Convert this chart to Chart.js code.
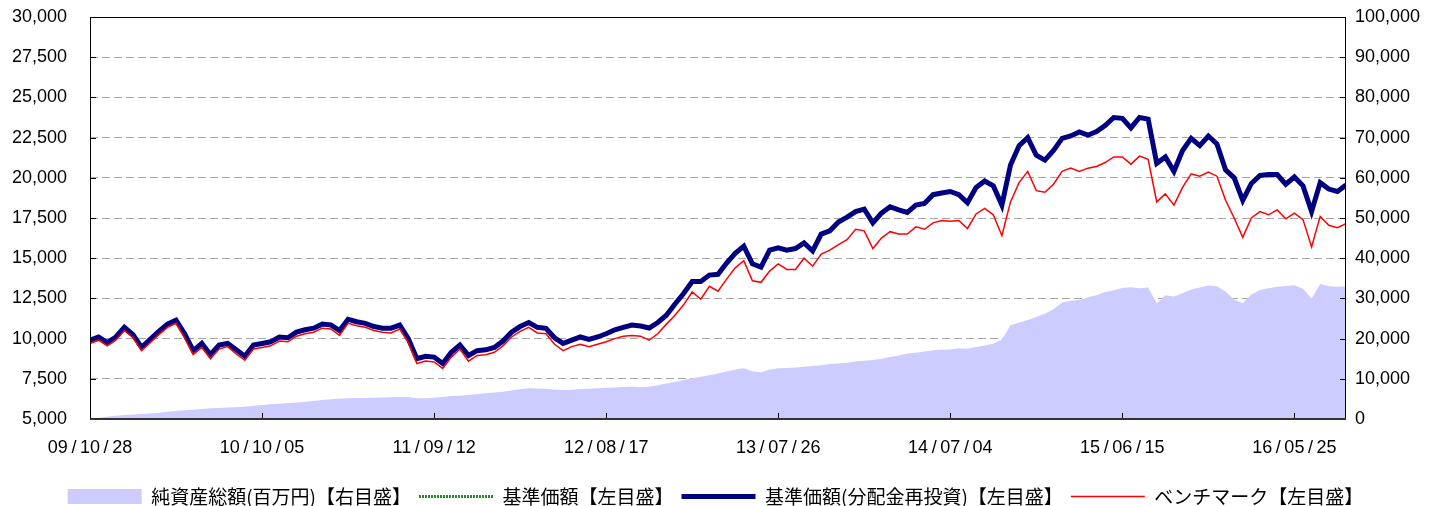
<!DOCTYPE html>
<html>
<head>
<meta charset="utf-8">
<script src="https://cdn.jsdelivr.net/npm/chart.js@4.4.0/dist/chart.umd.min.js"></script>
<style>
  html, body { margin: 0; padding: 0; background: #fff; }
  #wrap { width: 1431px; height: 506px; position: relative; }
</style>
</head>
<body>
<div id="wrap"><canvas id="chart"></canvas></div>
<script>
// tick labels on the x axis, one every 20 points
var tickLabels = ["09/10/28", "10/10/05", "11/09/12", "12/08/17", "13/07/26", "14/07/04", "15/06/15", "16/05/25"];
var tickStep = 20;

// 基準価額(分配金再投資) - left axis
var navReinvData = [
  9900, 10100, 9750, 10100, 10700, 10250, 9450, 9950, 10450, 10900,
  11150, 10300, 9250, 9700, 9000, 9600, 9700, 9300, 8900, 9600,
  9700, 9800, 10100, 10050, 10400, 10550, 10650, 10900, 10850, 10500,
  11200, 11050, 10950, 10750, 10650, 10650, 10840, 10000, 8750, 8900,
  8850, 8450, 9150, 9600, 8950, 9250, 9300, 9450, 9850, 10400,
  10750, 11000, 10700, 10640, 10050, 9700, 9900, 10100, 9950, 10100,
  10300, 10550, 10700, 10840, 10780, 10660, 11000, 11450, 12150, 12800,
  13550, 13550, 13950, 14000, 14700, 15300, 15750, 14650, 14450, 15500,
  15650, 15500, 15600, 15950, 15450, 16500, 16700, 17250, 17550, 17900,
  18050, 17200, 17800, 18200, 18000, 17850, 18300, 18400, 18950, 19050,
  19150, 18950, 18450, 19400, 19800, 19500, 18300, 20800, 22000, 22500,
  21400, 21100, 21700, 22450, 22600, 22850, 22650, 22870, 23250, 23750,
  23700, 23100, 23750, 23650, 20900, 21300, 20400, 21700, 22450, 22000,
  22600, 22100, 20500, 20000, 18600, 19650, 20150, 20200, 20200, 19600,
  20050, 19500, 17900, 19700, 19300, 19150, 19550
];

// 基準価額 - no distributions were paid, so it runs along the reinvested line
var navData = navReinvData.slice();

// ベンチマーク - left axis
var benchData = [
  9700, 9900, 9550, 9900, 10500, 10050, 9250, 9750, 10250, 10700,
  10950, 10050, 9000, 9450, 8750, 9350, 9500, 9050, 8650, 9350,
  9450, 9550, 9850, 9800, 10150, 10300, 10400, 10650, 10600, 10200,
  10950, 10800, 10700, 10500, 10400, 10350, 10600, 9750, 8450, 8600,
  8550, 8150, 8850, 9350, 8600, 8950, 9000, 9150, 9550, 10100,
  10450, 10700, 10350, 10300, 9650, 9250, 9500, 9650, 9500, 9650,
  9800, 10000, 10150, 10200, 10150, 9900, 10300, 10900, 11450, 12100,
  12900, 12450, 13250, 12950, 13700, 14400, 14850, 13600, 13500, 14200,
  14650, 14300, 14300, 15000, 14500, 15250, 15500, 15850, 16150, 16800,
  16700, 15600, 16250, 16650, 16500, 16500, 16950, 16800, 17200, 17350,
  17300, 17350, 16850, 17750, 18100, 17700, 16400, 18500, 19700, 20400,
  19200, 19100, 19600, 20400, 20600, 20400, 20600, 20700, 20950, 21300,
  21300, 20850, 21350, 21150, 18500, 19000, 18300, 19400, 20250, 20100,
  20350, 20100, 18600, 17500, 16300, 17500, 17900, 17700, 18000, 17450,
  17800, 17400, 15700, 17600, 17050, 16900, 17150
];

// 純資産総額(百万円) - right axis
var assetsData = [
  0, 300, 550, 800, 1000, 1150, 1250, 1350, 1550, 1800,
  2000, 2200, 2300, 2500, 2650, 2750, 2850, 2950, 3050, 3300,
  3500, 3700, 3800, 3950, 4050, 4300, 4500, 4700, 4900, 5050,
  5150, 5200, 5250, 5300, 5350, 5400, 5500, 5450, 5150, 5150,
  5300, 5500, 5700, 5800, 5950, 6150, 6400, 6600, 6800, 7100,
  7400, 7650, 7600, 7500, 7300, 7200, 7300, 7450, 7550, 7650,
  7750, 7850, 7950, 8050, 7900, 8050, 8400, 8850, 9200, 9700,
  10150, 10500, 10900, 11300, 11800, 12300, 12600, 11900, 11600, 12300,
  12600, 12700, 12800, 13000, 13200, 13400, 13700, 13800, 14000, 14300,
  14500, 14700, 15000, 15400, 15800, 16300, 16500, 16800, 17100, 17200,
  17300, 17600, 17500, 17900, 18300, 18700, 19800, 23300, 24000, 24600,
  25400, 26200, 27300, 29000, 29400, 29600, 30300, 30800, 31600, 32000,
  32600, 32800, 32500, 32700, 28800, 30800, 30500, 31300, 32200, 32700,
  33200, 33000, 31700, 29700, 28800, 31000, 32100, 32500, 32900, 33100,
  33300, 32400, 30000, 33600, 33000, 32900, 33000
];

var legendNames = ["純資産総額(百万円)【右目盛】", "基準価額【左目盛】", "基準価額(分配金再投資)【左目盛】", "ベンチマーク【左目盛】"];

function toPoints(arr) {
    return arr.map(function (v, i) { return { x: i, y: v }; });
}

var tickFont = { family: "'Liberation Sans', Arial, sans-serif", size: 18 };

// fixed box for the vertical axes so the plot sits at 90..1346 x 17..419
function fixAxis(width) {
    return function (scale) {
        scale.width = width;
        scale.paddingTop = 17;
        scale.paddingBottom = 0;
    };
}

// little inward tick marks and the plot frame
var frame = {
    id: 'frame',
    afterDatasetsDraw: function (chart) {
        var ctx = chart.ctx, a = chart.chartArea, s = chart.scales;
        ctx.save();
        ctx.strokeStyle = '#000';
        ctx.lineWidth = 1;
        ctx.beginPath();
        s.y.ticks.forEach(function (t) {
            var y = Math.round(s.y.getPixelForValue(t.value)) + 0.5;
            ctx.moveTo(a.left, y); ctx.lineTo(a.left + 6, y);
        });
        s.y2.ticks.forEach(function (t) {
            var y = Math.round(s.y2.getPixelForValue(t.value)) + 0.5;
            ctx.moveTo(a.right - 6, y); ctx.lineTo(a.right, y);
        });
        s.x.ticks.forEach(function (t) {
            var x = Math.round(s.x.getPixelForValue(t.value)) + 0.5;
            ctx.moveTo(x, a.bottom); ctx.lineTo(x, a.bottom - 6);
        });
        ctx.stroke();
        ctx.strokeRect(Math.round(a.left) + 0.5, Math.round(a.top) + 0.5, Math.round(a.width) - 1, Math.round(a.height) - 1);
        ctx.lineWidth = 2;
        ctx.strokeStyle = '#333';
        ctx.beginPath();
        ctx.moveTo(a.left, Math.round(a.bottom));
        ctx.lineTo(a.right, Math.round(a.bottom));
        ctx.stroke();
        ctx.restore();
    }
};

var config = {
    type: 'line',
    data: {
        datasets: [{
            label: legendNames[3],
            data: toPoints(benchData),
            borderColor: '#ff0000',
            borderWidth: 1.5,
            yAxisID: 'y',
            order: 1
        }, {
            label: legendNames[2],
            data: toPoints(navReinvData),
            borderColor: '#000080',
            borderWidth: 5,
            yAxisID: 'y',
            order: 2
        }, {
            label: legendNames[1],
            data: toPoints(navData),
            borderColor: '#228b22',
            borderWidth: 2,
            borderDash: [2, 2],
            yAxisID: 'y',
            order: 3
        }, {
            label: legendNames[0],
            data: toPoints(assetsData),
            borderWidth: 0,
            backgroundColor: '#ccccff',
            fill: 'origin',
            yAxisID: 'y2',
            order: 4
        }]
    },
    options: {
        responsive: true,
        maintainAspectRatio: false,
        animation: false,
        events: [],
        elements: { point: { radius: 0 }, line: { tension: 0 } },
        layout: { padding: 0 },
        scales: {
            x: {
                type: 'linear',
                min: 0,
                max: 146,
                afterBuildTicks: function (scale) {
                    scale.ticks = tickLabels.map(function (l, i) { return { value: i * tickStep }; });
                },
                afterFit: function (scale) { scale.height = 60; },
                grid: { display: false, drawTicks: false },
                border: { display: false },
                ticks: {
                    autoSkip: false,
                    maxRotation: 0,
                    padding: 18,
                    color: '#000',
                    font: tickFont,
                    callback: function (v) {
                        var l = tickLabels[Math.round(v / tickStep)];
                        return l ? l.split('/').join('\u2009/\u2009') : '';
                    }
                }
            },
            y: {
                position: 'left',
                min: 5000,
                max: 30000,
                afterFit: fixAxis(90),
                grid: { color: '#a6a6a6', drawTicks: false, lineWidth: 1 },
                border: { display: false, dash: [8, 4] },
                ticks: {
                    stepSize: 2500,
                    padding: 23,
                    color: '#000',
                    font: tickFont,
                    callback: function (v) { return v.toLocaleString('en-US'); }
                }
            },
            y2: {
                position: 'right',
                min: 0,
                max: 100000,
                afterFit: fixAxis(85),
                grid: { display: false, drawTicks: false },
                border: { display: false },
                ticks: {
                    stepSize: 10000,
                    padding: 9,
                    color: '#000',
                    font: tickFont,
                    callback: function (v) { return v.toLocaleString('en-US'); }
                }
            }
        },
        plugins: {
            tooltip: { enabled: false },
            legend: {
                position: 'bottom',
                maxHeight: 27,
                labels: {
                    usePointStyle: true,
                    pointStyleWidth: 74,
                    boxHeight: 15,
                    padding: 8,
                    color: '#000',
                    font: { family: "'Noto Sans CJK JP', sans-serif", size: 19 },
                    generateLabels: function () {
                        return [
                            { text: legendNames[0], pointStyle: 'rect', fillStyle: '#ccccff', strokeStyle: '#ccccff', lineWidth: 0, datasetIndex: 3 },
                            { text: legendNames[1], pointStyle: 'line', fillStyle: '#228b22', strokeStyle: '#228b22', lineWidth: 3, lineDash: [2, 1], datasetIndex: 2 },
                            { text: legendNames[2], pointStyle: 'line', fillStyle: '#000080', strokeStyle: '#000080', lineWidth: 5, datasetIndex: 1 },
                            { text: legendNames[3], pointStyle: 'line', fillStyle: '#ff0000', strokeStyle: '#ff0000', lineWidth: 1.5, datasetIndex: 0 }
                        ];
                    }
                }
            }
        }
    },
    plugins: [frame]
};

var myChart = new Chart(document.getElementById('chart'), config);
</script>
</body>
</html>
